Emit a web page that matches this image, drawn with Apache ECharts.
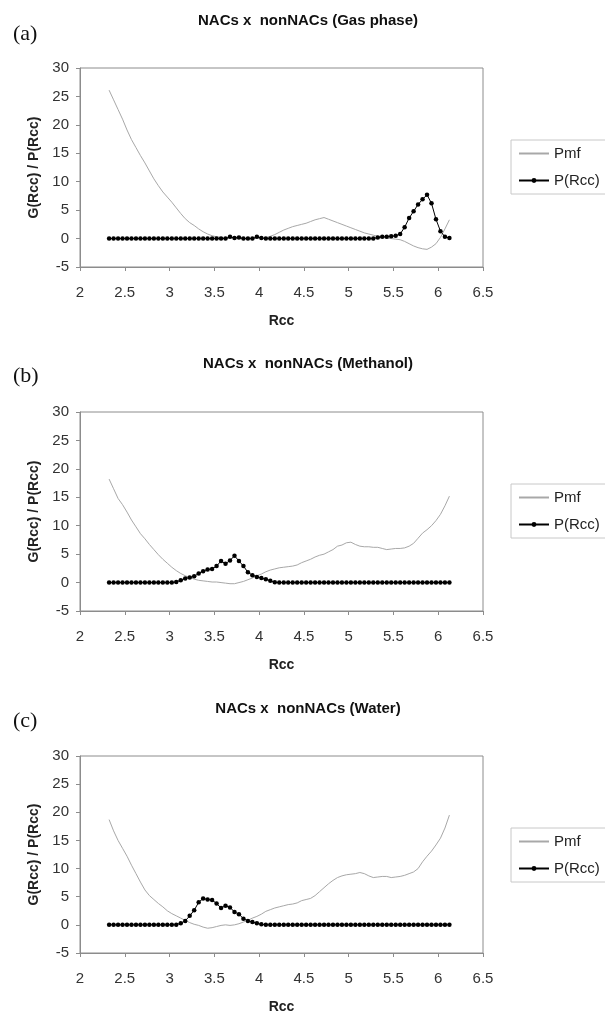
<!DOCTYPE html>
<html>
<head>
<meta charset="utf-8">
<script src="https://cdn.jsdelivr.net/npm/echarts@6/dist/echarts.min.js"></script>
<style>
  html, body { margin: 0; padding: 0; background: #fff; }
  #chart { width: 605px; height: 1015px; }
</style>
</head>
<body>
<div id="chart"></div>
<script>
// Rcc sampling grid shared by every series
const rcc = [
  2.325, 2.375, 2.425, 2.475, 2.525, 2.575, 2.625, 2.675, 2.725, 2.775,
  2.825, 2.875, 2.925, 2.975, 3.025, 3.075, 3.125, 3.175, 3.225, 3.275,
  3.325, 3.375, 3.425, 3.475, 3.525, 3.575, 3.625, 3.675, 3.725, 3.775,
  3.825, 3.875, 3.925, 3.975, 4.025, 4.075, 4.125, 4.175, 4.225, 4.275,
  4.325, 4.375, 4.425, 4.475, 4.525, 4.575, 4.625, 4.675, 4.725, 4.775,
  4.825, 4.875, 4.925, 4.975, 5.025, 5.075, 5.125, 5.175, 5.225, 5.275,
  5.325, 5.375, 5.425, 5.475, 5.525, 5.575, 5.625, 5.675, 5.725, 5.775,
  5.825, 5.875, 5.925, 5.975, 6.025, 6.075, 6.125
];

// (a) gas phase
const pmfGas = [
  26.1, 24.4, 22.7, 21.0, 19.1, 17.4, 16.0, 14.6, 13.3, 11.9,
  10.5, 9.3, 8.2, 7.3, 6.4, 5.4, 4.4, 3.5, 2.8, 2.3,
  1.7, 1.2, 0.8, 0.5, 0.3, 0.2, 0.1, 0.1, 0.1, 0.1,
  0.0, 0.0, 0.0, 0.1, 0.1, 0.1, 0.4, 0.7, 1.1, 1.5,
  1.8, 2.1, 2.3, 2.5, 2.7, 3.0, 3.3, 3.5, 3.7, 3.4,
  3.1, 2.8, 2.5, 2.2, 1.9, 1.6, 1.3, 1.0, 0.8, 0.6,
  0.4, 0.2, 0.1, 0.0, -0.1, -0.2, -0.5, -0.9, -1.3, -1.6,
  -1.8, -1.9, -1.5, -0.9, 0.2, 1.7, 3.3
];
const probGas = [
  0, 0, 0, 0, 0, 0, 0, 0, 0, 0,
  0, 0, 0, 0, 0, 0, 0, 0, 0, 0,
  0, 0, 0, 0, 0, 0, 0, 0.3, 0.1, 0.2,
  0, 0, 0, 0.3, 0.1, 0, 0, 0, 0, 0,
  0, 0, 0, 0, 0, 0, 0, 0, 0, 0,
  0, 0, 0, 0, 0, 0, 0, 0, 0, 0,
  0.2, 0.3, 0.3, 0.4, 0.5, 0.8, 2.0, 3.6, 4.8, 6.0,
  6.9, 7.7, 6.2, 3.4, 1.3, 0.3, 0.1
];

// (b) methanol
const pmfMethanol = [
  18.2, 16.5, 14.8, 13.7, 12.4, 11.0, 9.8, 8.6, 7.7, 6.7,
  5.8, 4.9, 4.1, 3.4, 2.7, 2.1, 1.6, 1.2, 0.9, 0.6,
  0.4, 0.3, 0.2, 0.1, 0.1, 0.0, -0.1, -0.2, -0.2, 0.0,
  0.2, 0.5, 0.8, 1.2, 1.5, 1.9, 2.2, 2.4, 2.6, 2.7,
  2.8, 2.9, 3.1, 3.5, 3.8, 4.1, 4.5, 4.8, 5.0, 5.4,
  5.8, 6.4, 6.6, 7.0, 7.1, 6.7, 6.4, 6.3, 6.3, 6.2,
  6.2, 6.0, 5.8, 5.9, 6.0, 6.0, 6.1, 6.4, 6.9, 7.8,
  8.7, 9.3, 10.0, 10.9, 12.0, 13.5, 15.2
];
const probMethanol = [
  0, 0, 0, 0, 0, 0, 0, 0, 0, 0,
  0, 0, 0, 0, 0, 0.1, 0.4, 0.7, 0.9, 1.1,
  1.6, 2.0, 2.3, 2.4, 2.9, 3.8, 3.3, 3.9, 4.7, 3.8,
  2.9, 1.8, 1.3, 1.0, 0.8, 0.6, 0.3, 0.05, 0, 0,
  0, 0, 0, 0, 0, 0, 0, 0, 0, 0,
  0, 0, 0, 0, 0, 0, 0, 0, 0, 0,
  0, 0, 0, 0, 0, 0, 0, 0, 0, 0,
  0, 0, 0, 0, 0, 0, 0
];

// (c) water
const pmfWater = [
  18.7, 16.7, 15.0, 13.6, 12.2, 10.6, 9.1, 7.6, 6.2, 5.2,
  4.5, 3.8, 3.2, 2.5, 2.0, 1.6, 1.2, 0.8, 0.4, 0.1,
  -0.1, -0.4, -0.6, -0.5, -0.3, -0.1, 0.0, -0.1, 0.0, 0.2,
  0.5, 0.8, 1.2, 1.5, 1.9, 2.4, 2.7, 3.0, 3.2, 3.4,
  3.6, 3.7, 3.9, 4.3, 4.5, 4.7, 5.2, 5.9, 6.6, 7.3,
  7.9, 8.4, 8.7, 8.9, 9.0, 9.1, 9.3, 9.1, 8.7, 8.4,
  8.5, 8.6, 8.6, 8.4, 8.5, 8.6, 8.8, 9.1, 9.4, 10.0,
  11.2, 12.2, 13.1, 14.2, 15.4, 17.2, 19.5
];
const probWater = [
  0, 0, 0, 0, 0, 0, 0, 0, 0, 0,
  0, 0, 0, 0, 0, 0, 0.3, 0.7, 1.6, 2.6,
  4.0, 4.7, 4.5, 4.4, 3.8, 3.0, 3.4, 3.1, 2.3, 1.9,
  1.1, 0.7, 0.5, 0.3, 0.1, 0, 0, 0, 0, 0,
  0, 0, 0, 0, 0, 0, 0, 0, 0, 0,
  0, 0, 0, 0, 0, 0, 0, 0, 0, 0,
  0, 0, 0, 0, 0, 0, 0, 0, 0, 0,
  0, 0, 0, 0, 0, 0, 0
];

const panelLetters = ['(a)', '(b)', '(c)'];
const panelTitles = [
  'NACs x  nonNACs (Gas phase)',
  'NACs x  nonNACs (Methanol)',
  'NACs x  nonNACs (Water)'
];
const pmfSets = [pmfGas, pmfMethanol, pmfWater];
const probSets = [probGas, probMethanol, probWater];
const xTicks = [2, 6.5, 0.5];
const yTicks = [-5, 30, 5];

const chart = echarts.init(document.getElementById('chart'), null, { renderer: 'canvas' });

const sans = '"Liberation Sans", Arial, sans-serif';
const serif = '"Liberation Serif", "Times New Roman", serif';
const gridTops = [68, 412, 756];
const titleY = [21, 364, 709];
const letterY = [34, 376, 721];

const grids = [], xAxes = [], yAxes = [], series = [], legends = [], graphics = [];

gridTops.forEach((top, i) => {
  grids.push({
    left: 80, top: top, width: 403, height: 199,
    show: true, borderColor: '#8c8c8c', borderWidth: 1, backgroundColor: '#fff'
  });

  xAxes.push({
    type: 'value', gridIndex: i,
    min: xTicks[0], max: xTicks[1], interval: xTicks[2],
    name: 'Rcc', nameLocation: 'middle', nameGap: 47,
    nameTextStyle: { fontSize: 14, fontWeight: 'bold', color: '#222', fontFamily: sans },
    axisLine: { show: true, onZero: false, lineStyle: { color: '#8c8c8c' } },
    axisTick: { show: true, length: 4, lineStyle: { color: '#8c8c8c' } },
    axisLabel: { fontSize: 15, color: '#333', margin: 18, fontFamily: sans },
    splitLine: { show: false }
  });

  yAxes.push({
    type: 'value', gridIndex: i,
    min: yTicks[0], max: yTicks[1], interval: yTicks[2],
    name: 'G(Rcc) / P(Rcc)', nameLocation: 'middle', nameGap: 38,
    nameTextStyle: { fontSize: 14, fontWeight: 'bold', color: '#222', fontFamily: sans },
    axisLine: { show: true, onZero: false, lineStyle: { color: '#8c8c8c' } },
    axisTick: { show: true, length: 4, lineStyle: { color: '#8c8c8c' } },
    axisLabel: { fontSize: 15, color: '#333', margin: 11, fontFamily: sans },
    splitLine: { show: false }
  });

  series.push({
    name: 'Pmf', type: 'line', xAxisIndex: i, yAxisIndex: i,
    data: rcc.map((x, k) => [x, pmfSets[i][k]]),
    symbol: 'none', color: '#a8a8a8',
    lineStyle: { width: 1, color: '#a8a8a8' }
  });
  series.push({
    name: 'P(Rcc)', type: 'line', xAxisIndex: i, yAxisIndex: i,
    data: rcc.map((x, k) => [x, probSets[i][k]]),
    symbol: 'circle', symbolSize: 4.5, showAllSymbol: true, color: '#000',
    itemStyle: { color: '#000' },
    lineStyle: { width: 1, color: '#000' }
  });

  legends.push({
    left: 511, top: top + 72, orient: 'vertical',
    data: [
      { name: 'Pmf', itemStyle: { color: 'rgba(0,0,0,0)', borderWidth: 0 } },
      'P(Rcc)'
    ],
    borderColor: '#c8c8c8', borderWidth: 1,
    padding: [6, 6, 6, 7], itemGap: 12,
    itemWidth: 30, itemHeight: 6,
    textStyle: { fontSize: 15, color: '#222', fontFamily: sans }
  });

  graphics.push({
    type: 'text', x: 308, y: titleY[i],
    style: {
      text: panelTitles[i], align: 'center', verticalAlign: 'middle',
      fontSize: 15, fontWeight: 'bold', fontFamily: sans, fill: '#111'
    }
  });
  graphics.push({
    type: 'text', x: 13, y: letterY[i],
    style: {
      text: panelLetters[i], align: 'left', verticalAlign: 'middle',
      fontSize: 22, fontFamily: serif, fill: '#111'
    }
  });
});

chart.setOption({
  animation: false,
  backgroundColor: '#fff',
  grid: grids,
  xAxis: xAxes,
  yAxis: yAxes,
  legend: legends,
  graphic: graphics,
  series: series
});
</script>
</body>
</html>
